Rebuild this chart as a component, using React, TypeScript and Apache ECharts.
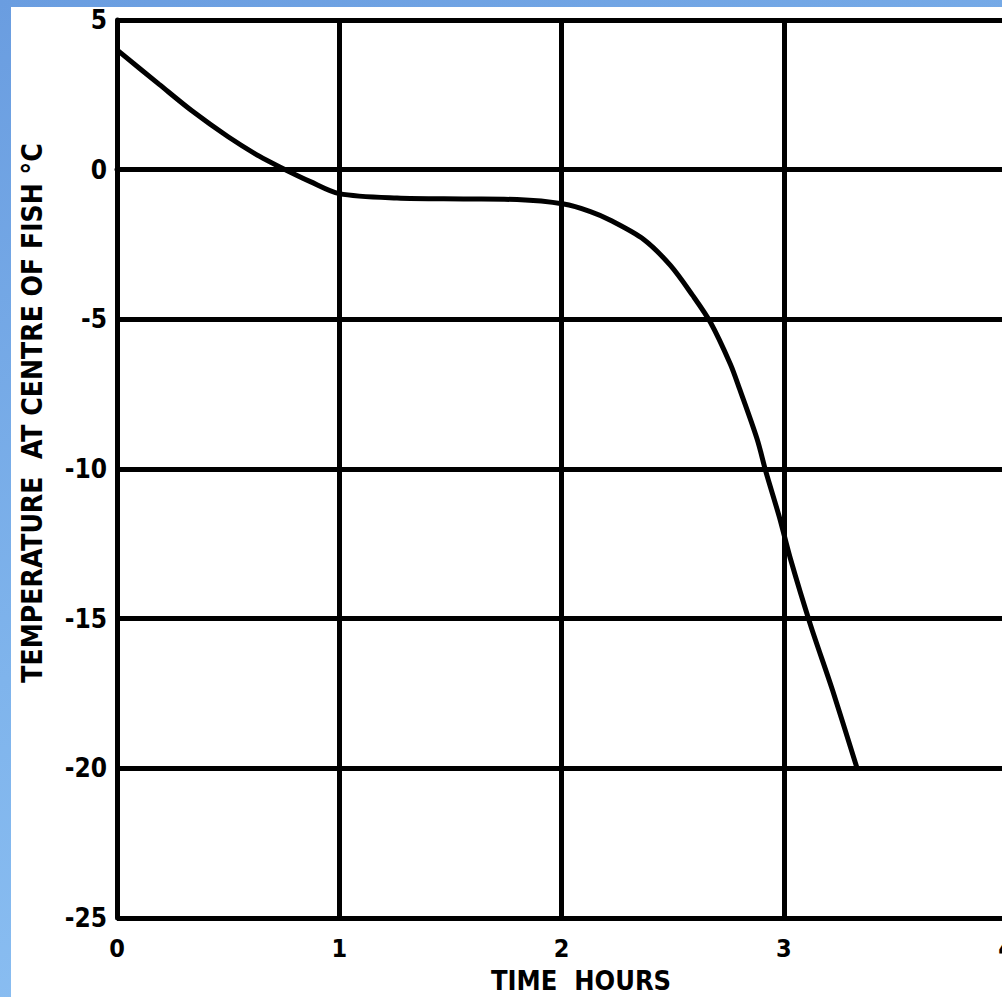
import React, { useEffect, useRef } from "react";
import * as echarts from "echarts";

const timeHours = [0, 0.19, 0.34, 0.5, 0.64, 0.73, 0.87, 1.0, 1.26, 1.56, 1.8, 2.01, 2.13, 2.22, 2.37, 2.49, 2.59, 2.67, 2.76, 2.8, 2.88, 2.92, 2.98, 3.03, 3.12, 3.22, 3.33];
const tempC = [4.0, 2.85, 1.95, 1.1, 0.45, 0.1, -0.4, -0.8, -0.95, -0.98, -1.0, -1.15, -1.4, -1.69, -2.33, -3.2, -4.2, -5.1, -6.5, -7.3, -9.0, -10.1, -11.6, -13.0, -15.2, -17.4, -20];
const xTicks = [0, 1, 2, 3, 4];
const yTicks = [5, 0, -5, -10, -15, -20, -25];
const xTitle = "TIME  HOURS";
const yTitle = "TEMPERATURE  AT CENTRE OF FISH \u00B0C";

const FONT = "'DejaVu Sans Condensed', 'DejaVu Sans', sans-serif";

export default function App() {
  const ref = useRef<HTMLDivElement>(null);
  useEffect(() => {
    if (!ref.current) return;
    const chart = echarts.init(ref.current, undefined, { renderer: "svg" });
    const data = timeHours.map((t, i) => [t, tempC[i]]);
    chart.setOption({
      animation: false,
      backgroundColor: "transparent",
      grid: { left: 117, top: 20, right: 24, bottom: 79, containLabel: false },
      xAxis: {
        type: "value",
        min: xTicks[0],
        max: xTicks[xTicks.length - 1],
        interval: 1,
        axisLine: { show: true, lineStyle: { color: "#000", width: 5 } },
        axisTick: { show: false },
        splitLine: { show: true, lineStyle: { color: "#000", width: 5 } },
        axisLabel: {
          margin: 18,
          color: "#000",
          fontFamily: FONT,
          fontWeight: "bold",
          fontSize: 25,
          formatter: (v: number) => String(v),
        },
      },
      yAxis: {
        type: "value",
        min: yTicks[yTicks.length - 1],
        max: yTicks[0],
        interval: 5,
        axisLine: { show: true, lineStyle: { color: "#000", width: 5 } },
        axisTick: { show: false },
        splitLine: { show: true, lineStyle: { color: "#000", width: 5 } },
        axisLabel: {
          margin: 10,
          color: "#000",
          fontFamily: FONT,
          fontWeight: "bold",
          fontSize: 26,
          formatter: (v: number) => String(v),
        },
      },
      graphic: [
        {
          type: "text",
          x: 581,
          y: 980,
          style: {
            text: xTitle,
            fill: "#000",
            font: `bold 27px ${FONT}`,
            align: "center",
            verticalAlign: "middle",
          },
        },
        {
          type: "text",
          x: 32,
          y: 413,
          rotation: Math.PI / 2,
          style: {
            text: yTitle,
            fill: "#000",
            font: `bold 28px ${FONT}`,
            align: "center",
            verticalAlign: "middle",
          },
        },
      ],
      series: [
        {
          type: "line",
          data,
          smooth: 0.3,
          symbol: "none",
          lineStyle: { color: "#000", width: 5 },
          z: 5,
        },
      ],
    });
    return () => chart.dispose();
  }, []);

  return (
    <div
      style={{
        position: "fixed",
        left: 0,
        top: 0,
        width: 1002,
        height: 997,
        overflow: "hidden",
        background: "linear-gradient(160deg, #6a9de0 0%, #7fb4ec 50%, #93c6f6 100%)",
      }}
    >
      <div
        style={{
          position: "absolute",
          left: 11,
          top: 7,
          width: 1100,
          height: 1000,
          background: "#fff",
        }}
      />
      <div
        ref={ref}
        style={{ position: "absolute", left: 0, top: 0, width: 1030, height: 997 }}
      />
    </div>
  );
}
